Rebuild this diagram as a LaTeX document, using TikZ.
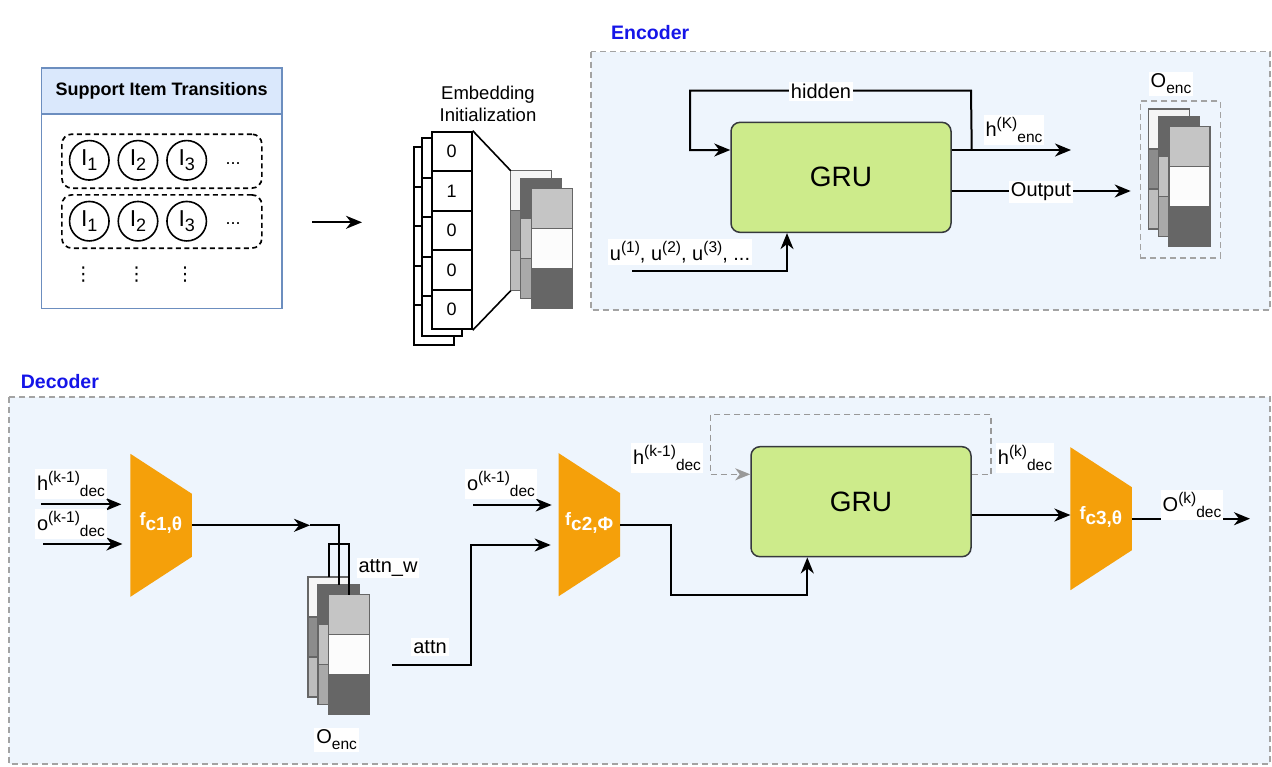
\documentclass[tikz,border=0pt]{standalone}
\usepackage{fontspec}
\setmainfont{Liberation Sans}
\newfontfamily\dejavu{DejaVu Sans}
\usetikzlibrary{arrows.meta,calc}
\definecolor{hdrblue}{HTML}{DAE8FC}
\definecolor{bordblue}{HTML}{6C8EBF}
\definecolor{panelblue}{HTML}{EEF5FD}
\definecolor{dashgrey}{HTML}{A3A3A3}
\definecolor{loopgrey}{HTML}{999999}
\definecolor{grufill}{HTML}{CDEB8B}
\definecolor{grudraw}{HTML}{36393D}
\definecolor{fcorange}{HTML}{F5A00A}
\definecolor{titleblue}{HTML}{1515E8}
\definecolor{stk}{HTML}{666666}
\definecolor{sA}{HTML}{F5F5F5}
\definecolor{sB}{HTML}{8C8C8C}
\definecolor{sC}{HTML}{BDBDBD}
\definecolor{sD}{HTML}{666666}
\definecolor{sE}{HTML}{C2C2C2}
\definecolor{sF}{HTML}{A9A9A9}
\definecolor{sG}{HTML}{C5C5C5}
\definecolor{sH}{HTML}{FCFCFC}

\newcommand{\SupSub}[3]{#1\raisebox{8.5pt}{\fontsize{15.5}{16}\selectfont #2}\raisebox{-6pt}{\fontsize{15.5}{16}\selectfont #3}}
\newcommand{\SupOnly}[2]{#1\raisebox{8.5pt}{\fontsize{15.5}{16}\selectfont #2}}
\newcommand{\SubOnly}[2]{#1\raisebox{-6pt}{\fontsize{15.5}{16}\selectfont #2}}
\newcommand{\Itm}[1]{I\raisebox{-5pt}{\fontsize{18}{18}\selectfont #1}}
\newcommand{\FcLbl}[1]{f\raisebox{-5pt}{\fontsize{19}{19}\selectfont\bfseries #1}}

\tikzset{
  lbl/.style={font=\fontsize{20}{22}\selectfont, inner sep=2pt, fill=white},
  ln/.style={line width=2pt, draw=black},
  arr/.style={ln, -{Stealth[length=16pt,width=13pt,inset=5pt]}},
  gloop/.style={line width=1.6pt, draw=loopgrey, dash pattern=on 6pt off 4pt,
     -{Stealth[length=15pt,width=12pt,inset=4.5pt,fill=loopgrey]}},
  panel/.style={fill=panelblue, draw=dashgrey, line width=1.5pt, dash pattern=on 6pt off 4pt},
  gru/.style={draw=grudraw, fill=grufill, line width=1.5pt, rounded corners=9pt,
     minimum width=220pt, minimum height=110pt, font=\fontsize{28}{30}\selectfont, inner sep=0pt},
  fclbl/.style={text=white, font=\fontsize{18}{20}\selectfont\bfseries, inner sep=0pt},
  colframe/.style={draw=stk, line width=1.4pt, minimum width=41pt, minimum height=120pt,
     inner sep=0pt, outer sep=0pt, anchor=north west},
  cell/.style={draw=black, line width=2pt, fill=white, minimum width=40pt, minimum height=39.5pt,
     inner sep=0pt, anchor=north west, font=\fontsize{18}{20}\selectfont},
  itm/.style={circle, draw=black, line width=1.6pt, minimum size=39.5pt, inner sep=0pt,
     font=\fontsize{23}{24}\selectfont},
  rowbox/.style={draw=black, line width=1.7pt, dash pattern=on 5pt off 3.5pt, rounded corners=10pt,
     minimum width=200pt, anchor=north west, inner sep=0pt},
  title/.style={font=\fontsize{19.5}{22}\selectfont\bfseries, text=titleblue, anchor=west, inner sep=0pt},
  vdots/.style={font=\dejavu\fontsize{19}{20}\selectfont, inner sep=0pt},
}

\newcommand{\StackCol}[6]{%
  \fill[#4] (#2,#3) rectangle ++(41,40);
  \fill[#5] (#2,#3+40) rectangle ++(41,40);
  \fill[#6] (#2,#3+80) rectangle ++(41,40);
  \draw[stk,line width=1.4pt] (#2,#3+40) -- ++(41,0) (#2,#3+80) -- ++(41,0);
  \node[colframe] (#1) at (#2,#3) {};
}
\newcommand{\MkStack}[3]{%
  \StackCol{#3b}{#1}{#2}{sA}{sB}{sC}%
  \StackCol{#3m}{#1+10}{#2+7.5}{sD}{sE}{sF}%
  \StackCol{#3f}{#1+20.5}{#2+17.5}{sG}{sH}{sD}%
}
\newcommand{\FcShape}[4]{%
  \fill[fcorange] (#2,#3-71.5) -- (#2+61.5,#3-31.5) -- (#2+61.5,#3+31.5) -- (#2,#3+71.5) -- cycle;
  \coordinate (#1W) at (#2,#3);
  \coordinate (#1E) at (#2+61.5,#3);
  \node[fclbl] (#1) at (#2+30.5,#3-2) {#4};
}

\begin{document}
\begin{tikzpicture}[x=1pt,y=-1pt]
\useasboundingbox (0,0) rectangle (1272,766);

% ---------- panels ----------
\node[title] (enctitle) at (611,33) {Encoder};
\node[title] (dectitle) at (20.7,381.7) {Decoder};
\path[panel] (591,51.7) rectangle (1270,310);
\path[panel] (9,397) rectangle (1270,764);

% ---------- support box ----------
\node[draw=bordblue, line width=1.5pt, fill=white, minimum width=240.3pt, minimum height=240.4pt,
      anchor=north west, inner sep=0pt] (sup) at (40.7,67.3) {};
\node[draw=bordblue, line width=1.5pt, fill=hdrblue, minimum width=240.3pt, minimum height=46pt,
      anchor=north west, inner sep=0pt, font=\fontsize{18}{20}\selectfont\bfseries] (suph) at (40.7,67.3) {Support Item Transitions};
\node[rowbox, minimum height=54pt] (row1) at (61,133.3) {};
\node[rowbox, minimum height=53.3pt] (row2) at (61,194) {};
\node[itm] (r1a) at (89.3,160.3) {\Itm{1}};
\node[itm] (r1b) at (138,160.3) {\Itm{2}};
\node[itm] (r1c) at (186.7,160.3) {\Itm{3}};
\node[font=\fontsize{18}{20}\selectfont, anchor=base, inner sep=0pt] (r1d) at (233,164.5) {...};
\node[itm] (r2a) at (89.3,221.2) {\Itm{1}};
\node[itm] (r2b) at (138,221.2) {\Itm{2}};
\node[itm] (r2c) at (186.7,221.2) {\Itm{3}};
\node[font=\fontsize{18}{20}\selectfont, anchor=base, inner sep=0pt] (r2d) at (233,224) {...};
\node[vdots] (vd1) at (83.3,275) {⋮};
\node[vdots] (vd2) at (136.7,275) {⋮};
\node[vdots] (vd3) at (185,275) {⋮};

\coordinate (sa1) at (312,222.3);
\coordinate (sa2) at (362,222.3);
\draw[arr] (sa1) -- (sa2);

% ---------- embedding ----------
\node[font=\fontsize{18.5}{22}\selectfont, align=center, inner sep=0pt] (embl) at (488,104) {Embedding\\Initialization};
\foreach \i in {0,...,4} \node[cell] (ohc\i) at (412.7,146+39.5*\i) {};
\foreach \i in {0,...,4} \node[cell] (ohb\i) at (420.7,137.3+39.5*\i) {};
\foreach \i/\d in {0/0,1/1,2/0,3/0,4/0} \node[cell] (ohf\i) at (430.7,130.7+39.5*\i) {\d};
\MkStack{510.7}{170.7}{ts}
\draw[line width=1.6pt] (ohf0.north east) -- (tsb.north west);
\draw[line width=1.6pt] (ohf4.south east) -- (tsb.south west);

% ---------- encoder ----------
\node[gru] (egru) at (841,177.35) {GRU};
\node[draw=dashgrey, line width=1.5pt, dash pattern=on 6pt off 4pt, minimum width=80pt, minimum height=157pt,
      anchor=north west, inner sep=0pt] (esbox) at (1139.5,100) {};
\MkStack{1148.3}{109}{es}

\coordinate (br) at ($(egru.east)+(20,-27.35)$);
\coordinate (hkend) at (1071,150);
\coordinate (hidR) at (971,90.7);
\coordinate (hidL) at (690,90.7);
\coordinate (outend) at (1130.7,191);
\coordinate (ustart) at (632,270.7);
\draw[arr] (br -| egru.east) -- (hkend);
\draw[arr] (br) -- (hidR) -- (hidL) |- (br -| egru.west);
\draw[arr] (outend -| egru.east) -- (outend);
\draw[arr] (ustart) -| ($(egru.south)+(-54,0)$);

\node[lbl] (lhid) at (821,91.7) {hidden};
\node[lbl] (lhk) at (1014,130) {\SupSub{h}{(K)}{enc}};
\node[lbl] (lout) at (1041,192) {Output};
\node[lbl] (loenc) at (1171,84) {\SubOnly{O}{enc}};
\node[lbl] (lu) at (680,252) {\SupOnly{u}{(1)}, \SupOnly{u}{(2)}, \SupOnly{u}{(3)}, ...};

% ---------- decoder ----------
\FcShape{fca}{130.4}{525.3}{\FcLbl{c1,θ}}
\FcShape{fcb}{558.7}{524.7}{\FcLbl{c2,Φ}}
\FcShape{fcc}{1070.4}{518.7}{\FcLbl{c3,θ}}
\node[gru] (dgru) at (861,501.7) {GRU};
\MkStack{308}{577}{ds}

\coordinate (ha) at (41,504.3);
\coordinate (oa) at (43,544);
\draw[arr, shorten >=9pt] (ha) -- (ha -| fcaW);
\draw[arr, shorten >=8pt] (oa) -- (oa -| fcaW);

\coordinate (attnin) at (310,525.3);
\coordinate (brk) at (330,544);
\draw[arr] (fcaE) -- (attnin);
\draw[ln] (attnin) -| (dsm.north);
\draw[ln] (dsb.north) -- (dsb.north |- brk) -- (dsf.north |- brk) -- (dsf.north);

\coordinate (attnout) at (391.8,665);
\coordinate (attnup) at (471.4,545);
\draw[arr, shorten >=8pt] (attnout) -| (attnup) -- (attnup -| fcbW);
\coordinate (ob) at (473,505);
\draw[arr, shorten >=7pt] (ob) -- (ob -| fcbW);

\coordinate (c2a) at (670.8,595);
\draw[arr] (fcbE) -| (c2a) -| ($(dgru.south)+(-53.7,0)$);

\coordinate (dl1) at (991,414.3);
\coordinate (dl2) at (710.6,414.3);
\coordinate (dls) at ($(dgru.east)+(0,-27.4)$);
\draw[gloop] (dls) -| (dl1) -- (dl2) |- (dls -| dgru.west);

\coordinate (g2) at ($(dgru.east)+(0,13.3)$);
\draw[arr] (g2) -- (g2 -| fccW);
\coordinate (ook) at (1250,518.7);
\draw[arr] (fccE) -- (ook);

\node[lbl] (lhd) at (71,484) {\SupSub{h}{(k-1)}{dec}};
\node[lbl] (lod) at (71,524) {\SupSub{o}{(k-1)}{dec}};
\node[lbl] (lod2) at (501,484) {\SupSub{o}{(k-1)}{dec}};
\node[lbl] (lhd2) at (667,458) {\SupSub{h}{(k-1)}{dec}};
\node[lbl] (lhk2) at (1025,458) {\SupSub{h}{(k)}{dec}};
\node[lbl] (lok) at (1192,505) {\SupSub{O}{(k)}{dec}};
\node[lbl] (law) at (388,568) {attn\_w};
\node[lbl] (lat) at (430,647) {attn};
\node[lbl] (loenc2) at (336.7,740) {\SubOnly{O}{enc}};
\end{tikzpicture}
\end{document}
